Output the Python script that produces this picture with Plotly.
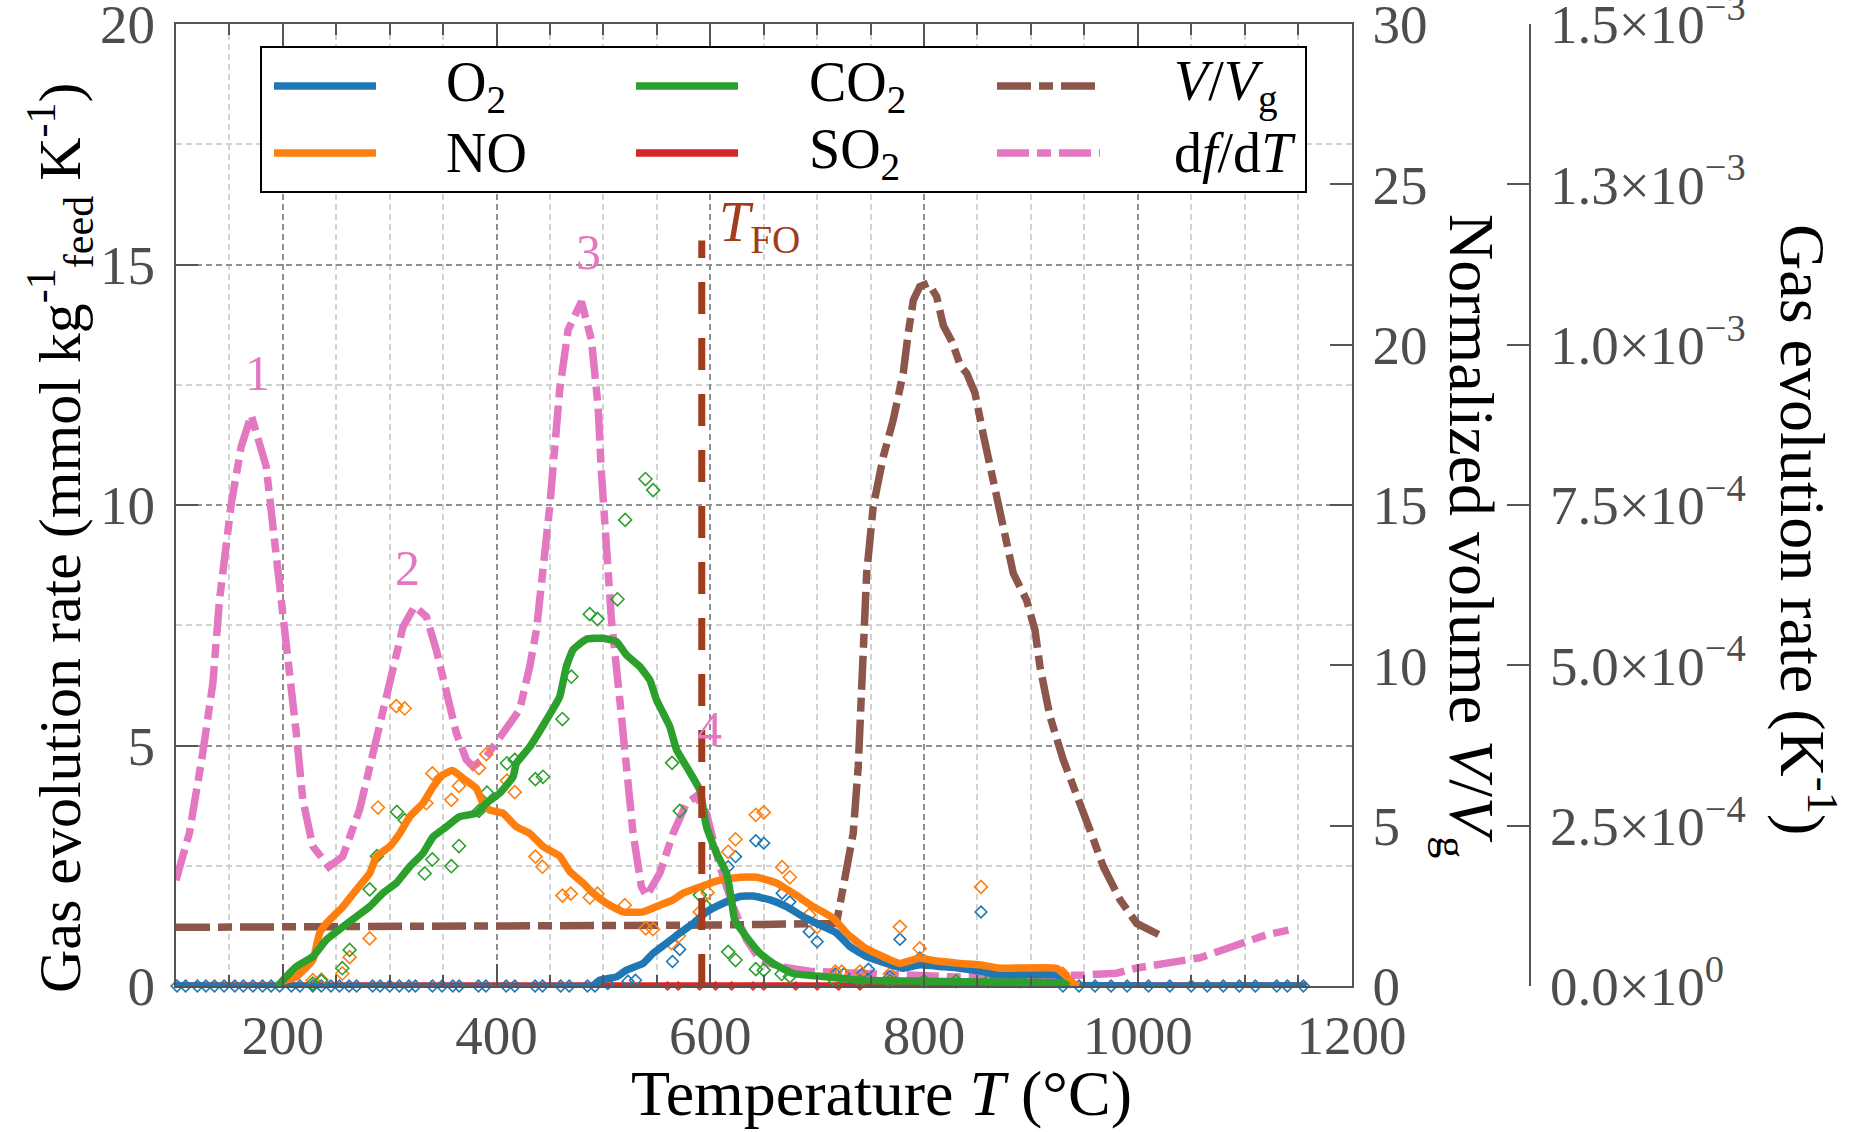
import plotly.graph_objects as go

# ---------------- data ----------------
# O2 (solid line), mmol kg-1 K-1
T_O2 = [100, 490, 496.5, 512.2, 521.5, 537.1, 546.5, 559, 571.4, 583.9, 596.4, 612, 627.7, 640.1, 656,
        671.4, 686.9, 702.5, 718.2, 730.6, 746.3, 764.9, 780.5, 796, 818, 833.6, 855, 871, 924, 932, 940, 1158]
O2 = [0, 0, 0.12, 0.19, 0.33, 0.47, 0.68, 0.89, 1.10, 1.30, 1.54, 1.72, 1.86, 1.87, 1.79,
      1.65, 1.44, 1.27, 1.10, 0.82, 0.61, 0.47, 0.37, 0.44, 0.40, 0.37, 0.30, 0.23, 0.23, 0.08, 0.02, 0]

T_NO = [195, 200, 212.5, 228, 234.4, 240.6, 256.2, 268.7, 281.2, 287.5, 300, 309.3, 318.6, 331.1, 340.5,
        349.8, 358.6, 368.5, 381.1, 387.3, 393.5, 406, 418.5, 431, 443.5, 459, 468.4, 480.9, 490.3, 502.8,
        518.4, 537.1, 552.7, 565.2, 574.6, 590.2, 609, 627.7, 643.3, 662, 677.5, 696.3, 715, 727.5, 743,
        758.7, 777.4, 796, 808.6, 833.6, 852, 870.9, 924, 930.3, 940, 945]
NO = [0, 0.10, 0.19, 0.54, 1.10, 1.30, 1.65, 2.0, 2.34, 2.69, 2.90, 3.17, 3.52, 3.80, 4.14,
      4.39, 4.48, 4.32, 4.11, 3.80, 3.66, 3.59, 3.31, 3.17, 2.90, 2.70, 2.38, 2.14, 1.93, 1.72,
      1.54, 1.54, 1.68, 1.79, 1.93, 2.06, 2.20, 2.26, 2.26, 2.14, 1.93, 1.65, 1.41, 1.10, 0.82,
      0.64, 0.47, 0.58, 0.53, 0.47, 0.44, 0.37, 0.37, 0.26, 0.05, 0]

T_CO2 = [195, 200, 212.5, 228, 240.6, 256.2, 268.7, 281.2, 293.6, 306.2, 318.6, 331.1, 340.5, 353, 365.4,
         381.1, 390.4, 402.9, 415.4, 418.5, 431, 446.6, 459, 465.3, 471.5, 484, 499.6, 512.2, 521.5, 534,
         543.4, 549.6, 562.1, 568.4, 577.7, 590.2, 596.4, 605.8, 615.2, 619.8, 622.9, 633.9, 646.4, 658.8,
         677.5, 708.8, 740, 800, 880, 930, 935]
CO2 = [0, 0.12, 0.40, 0.61, 0.96, 1.23, 1.44, 1.65, 1.93, 2.14, 2.48, 2.76, 3.10, 3.31, 3.52,
       3.59, 3.80, 4.01, 4.35, 4.63, 4.97, 5.53, 6.01, 6.64, 6.99, 7.21, 7.23, 7.16, 6.88, 6.64,
       6.36, 5.95, 5.39, 4.91, 4.56, 4.07, 3.31, 2.76, 2.34, 1.79, 1.37, 1.02, 0.68, 0.47,
       0.26, 0.19, 0.12, 0.10, 0.08, 0.06, 0]

T_SO2 = [100, 600, 1158]
SO2 = [0, 0, 0]

# raw measurement points (open diamonds)
T_O2_pts = [101, 109, 120, 128, 136, 145, 155, 163, 172, 181, 189, 197, 208, 216, 228, 236, 245, 253, 262, 269,
            284, 291, 300, 309, 318, 324, 340, 349, 359, 365, 383, 390, 409, 417, 436, 443, 460, 468, 485, 492,
            504, 523, 530, 564.6, 571.4, 616.7, 623.6, 642.6, 650, 667.2, 674.4, 692.5, 700, 717, 725, 742, 748,
            768, 777.4, 796, 853.3, 870, 890, 910, 930, 945, 960, 975, 990, 1010, 1030, 1050, 1065, 1080, 1095,
            1110, 1130, 1140, 1155]
O2_pts = [0] * 40 + [0.05, 0.10, 0.12, 0.51, 0.76, 2.48, 2.69, 3.02, 2.97, 1.93, 1.75, 1.13, 0.92, 0.25, 0.25,
                     0.25, 0.35, 0.20, 0.97, 0.58, 1.54, 0.15, 0.15, 0.15] + [0] * 15

T_NO_pts = [228, 236, 255.6, 262.5, 281.2, 289, 306.2, 314, 334.3, 339.9, 357.7, 364.8, 383.5, 390.4, 409.7, 417,
            436.3, 442.9, 461.6, 469.4, 487.2, 494.4, 520, 539.6, 546.5, 563.7, 570.6, 590.2, 597.4, 616.7, 623.6,
            642.6, 650, 667.2, 674.4, 692.5, 700, 717, 723, 740, 768, 777.4, 796, 853.3, 875, 890, 910, 930]
NO_pts = [0.12, 0.13, 0.26, 0.60, 0.99, 3.71, 5.82, 5.77, 3.80, 4.42, 3.87, 4.16, 4.53, 4.82, 4.27, 4.03,
          2.69, 2.48, 1.88, 1.92, 1.84, 1.92, 1.68, 1.20, 1.18, 0.89, 1.04, 1.54, 1.94, 2.79, 3.05,
          3.56, 3.61, 2.47, 2.26, 1.48, 1.23, 0.30, 0.30, 0.30, 0.25, 1.23, 0.78, 2.06, 0.20, 0.25, 0.20, 0.25]

T_CO2_pts = [228, 236, 255.6, 262.5, 281.2, 288, 306.7, 314, 332.7, 339.9, 357.7, 364.8, 383.5, 391, 409.7, 417,
             436.3, 443.4, 461.6, 470, 487.2, 494.4, 513.1, 520.3, 539.3, 546.5, 564.2, 571.4, 590.2, 596.4,
             616.7, 623.6, 642.6, 650, 666.7, 674.5, 717, 740, 768, 800, 830, 860, 890, 930]
CO2_pts = [0.05, 0.10, 0.37, 0.75, 2.01, 2.70, 3.62, 3.45, 2.34, 2.63, 2.49, 2.91, 3.64, 4.02, 4.63, 4.70,
           4.30, 4.35, 5.55, 6.43, 7.73, 7.63, 8.04, 9.69, 10.54, 10.31, 4.64, 3.64, 1.89, 1.65,
           0.71, 0.54, 0.35, 0.33, 0.25, 0.20, 0.10, 0.10, 0.10, 0.10, 0.10, 0.10, 0.10, 0.10]

T_SO2_pts = [560, 570, 590, 605, 620, 640, 650, 680, 700, 720, 740]
SO2_pts = [0] * 11

# normalized volume V/Vg
T_V = [100, 300, 500, 600, 718, 727.5, 733.7, 738.4, 741.5, 743.1, 746.3, 752.4, 761.8, 771.2, 780.5, 785.2,
       790, 796, 804, 811.8, 818, 826, 834, 840, 847.6, 855.4, 863.3, 869.5, 875.7, 883.5, 896, 903.8, 908.5,
       917.9, 930.3, 942.9, 955.3, 967.8, 983.4, 999, 1011.5, 1024]
V_Vg = [1.83, 1.84, 1.87, 1.90, 1.95, 3.51, 4.76, 6.84, 8.93, 11.0, 12.87, 14.94, 16.5, 17.66, 19.11, 20.36,
        21.39, 21.81, 21.92, 21.5, 20.6, 20.1, 19.35, 19.1, 18.5, 17.2, 16.0, 14.94, 13.9, 12.87, 12.03, 11.1, 9.96,
        8.4, 7.05, 6.0, 4.86, 3.72, 2.69, 1.95, 1.74, 1.53]

# df/dT (K^-1)
T_df = [100, 112.6, 125, 134.5, 140.7, 151.7, 161, 170.4, 184.4, 190.6, 195.3, 206.3, 212.5, 218.7, 228, 243,
        256, 271.8, 287.5, 300, 312.4, 323.3, 334.3, 343.6, 353, 362.4, 371.7, 377.9, 390.4, 406, 421.6, 431,
        437.3, 449.7, 459, 466.9, 479.4, 488.8, 495, 498.1, 502.8, 507.5, 515.3, 521.5, 527.7, 535.5, 540.3,
        552.7, 565.2, 577.7, 587, 596.4, 609, 621.4, 633.9, 646.4, 665.1, 693.2, 740, 802, 830, 949, 980, 999,
        1027, 1058, 1089.5, 1120.8, 1141]
dfdT = [1.65e-4, 2.39e-4, 3.63e-4, 4.72e-4, 6.02e-4, 7.52e-4, 8.41e-4, 8.90e-4, 8.10e-4, 7.22e-4, 6.44e-4,
        4.98e-4, 3.95e-4, 2.90e-4, 2.18e-4, 1.86e-4, 2.02e-4, 2.75e-4, 3.83e-4, 4.72e-4, 5.60e-4, 5.92e-4,
        5.76e-4, 5.24e-4, 4.57e-4, 3.94e-4, 3.53e-4, 3.42e-4, 3.58e-4, 3.94e-4, 4.31e-4, 4.98e-4, 5.55e-4,
        7.47e-4, 9.29e-4, 1.023e-3, 1.067e-3, 1.007e-3, 9.03e-4, 8.00e-4, 6.95e-4, 5.70e-4, 4.46e-4, 3.42e-4,
        2.38e-4, 1.55e-4, 1.40e-4, 1.76e-4, 2.38e-4, 2.85e-4, 2.96e-4, 2.69e-4, 1.86e-4, 1.24e-4, 7.2e-5,
        4.1e-5, 3.0e-5, 2.3e-5, 2.0e-5, 1.4e-5, 1.4e-5, 1.7e-5, 2.0e-5, 2.8e-5, 3.5e-5, 4.4e-5, 6.2e-5,
        8.0e-5, 8.7e-5]

T_FO = 592
T_FO_TOP = 15.5

peak_labels = ["1", "2", "3", "4"]
peak_T = [176, 317, 486, 599]
peak_val = [12.75, 8.7, 15.25, 5.35]

y3_tickvals = [0, 2.5e-4, 5.0e-4, 7.5e-4, 1.0e-3, 1.25e-3, 1.5e-3]
y3_ticktext = ["0.0×10<sup>0</sup>", "2.5×10<sup>−4</sup>", "5.0×10<sup>−4</sup>", "7.5×10<sup>−4</sup>",
               "1.0×10<sup>−3</sup>", "1.3×10<sup>−3</sup>", "1.5×10<sup>−3</sup>"]

# ---------------- styling ----------------
C_O2, C_NO, C_CO2, C_SO2 = "#1f77b4", "#ff7f0e", "#2ca02c", "#d62728"
C_V, C_DF, C_TFO = "#8c564b", "#e377c2", "#a23c1c"
FONT = "Liberation Serif, Times New Roman, serif"
TICKC = "#4d4d4d"
AXC = "#555555"
DASH_V = "34px,8px,14px,8px"
DASH_DF = "32px,8px,14px,8px"
GRID_DASH = "6px,4px"
LW = 7.5

W, H = 1872, 1132
ML, MR, MT, MB = 176, 272, 24, 146
PW = W - ML - MR
PH = H - MT - MB
PLOT_RIGHT = 1351.5
Y3_X = 1530


def px(xp):
    return (xp - ML) / PW


def py(yp):
    return (H - MB - yp) / PH


fig = go.Figure()

fig.add_trace(go.Scatter(x=T_SO2, y=SO2, mode="lines", line=dict(color=C_SO2, width=LW),
                         yaxis="y", showlegend=False))
fig.add_trace(go.Scatter(x=T_V, y=V_Vg, mode="lines", line=dict(color=C_V, width=LW, dash=DASH_V),
                         yaxis="y2", showlegend=False))
fig.add_trace(go.Scatter(x=T_df, y=dfdT, mode="lines", line=dict(color=C_DF, width=LW, dash=DASH_DF),
                         yaxis="y3", showlegend=False))

for T, v, c, s in [(T_SO2_pts, SO2_pts, C_SO2, 6), (T_O2_pts, O2_pts, C_O2, 9),
                   (T_NO_pts, NO_pts, C_NO, 10), (T_CO2_pts, CO2_pts, C_CO2, 10)]:
    fig.add_trace(go.Scatter(x=T, y=v, mode="markers",
                             marker=dict(symbol="diamond-open", size=s, color=c, line=dict(width=1.6, color=c)),
                             yaxis="y4", showlegend=False, cliponaxis=False))

for T, v, c in [(T_O2, O2, C_O2), (T_NO, NO, C_NO), (T_CO2, CO2, C_CO2)]:
    fig.add_trace(go.Scatter(x=T, y=v, mode="lines", line=dict(color=c, width=LW, shape="spline", smoothing=0.4),
                             yaxis="y4", showlegend=False))

fig.add_trace(go.Scatter(x=[T_FO, T_FO], y=[0, T_FO_TOP], mode="lines",
                         line=dict(color=C_TFO, width=7, dash="32px,24px"), yaxis="y4", showlegend=False))

tickfont = dict(family=FONT, size=55, color=TICKC)
common_y = dict(ticks="inside", ticklen=22, tickwidth=2, tickcolor=AXC, showline=True, linecolor=AXC,
                linewidth=2, zeroline=False, tickfont=tickfont, automargin=False,
                ticklabeloverflow="allow", ticklabelstandoff=8)

fig.update_layout(
    width=W, height=H,
    margin=dict(l=ML, r=MR, t=MT, b=MB),
    paper_bgcolor="white", plot_bgcolor="white",
    showlegend=False,
    xaxis=dict(domain=[0, px(PLOT_RIGHT)], range=[100, 1200], tickmode="linear", tick0=0, dtick=200,
               ticks="inside", ticklen=22, tickwidth=2, tickcolor=AXC,
               showline=True, linecolor=AXC, linewidth=2, mirror="ticks",
               showgrid=True, gridcolor="#8f8f8f", gridwidth=1.5, griddash=GRID_DASH,
               minor=dict(tick0=0, dtick=50, ticks="inside", ticklen=11, tickwidth=1.5, tickcolor=AXC,
                          showgrid=True, gridcolor="#d2d2d2", gridwidth=1.5, griddash=GRID_DASH),
               zeroline=False, tickfont=tickfont, automargin=False, ticklabeloverflow="allow",
               ticklabelstandoff=0),
    yaxis=dict(range=[0, 20], tickmode="linear", tick0=0, dtick=5, mirror=True,
               showgrid=True, gridcolor="#8f8f8f", gridwidth=1.5, griddash=GRID_DASH,
               minor=dict(tick0=0, dtick=2.5, ticks="", showgrid=True, gridcolor="#d2d2d2",
                          gridwidth=1.5, griddash=GRID_DASH),
               **common_y),
    yaxis2=dict(overlaying="y", side="right", anchor="x", range=[0, 30], tickmode="linear", tick0=0, dtick=5,
                showgrid=False, **common_y),
    yaxis3=dict(overlaying="y", side="right", anchor="free", position=px(Y3_X), range=[0, 1.5e-3],
                tickmode="array", tickvals=y3_tickvals, ticktext=y3_ticktext, showgrid=False, **common_y),
    yaxis4=dict(overlaying="y", range=[0, 20], visible=False),
)

annotations = []
TITLE_FONT = dict(family=FONT, size=64, color="black")
annotations.append(dict(text="Gas evolution rate (mmol kg<sup>-1</sup><sub>feed</sub> K<sup>-1</sup>)",
                        xref="paper", yref="paper", x=px(60), y=py(538), textangle=-90,
                        xanchor="center", yanchor="middle", showarrow=False,
                        font=dict(family=FONT, size=60, color="black")))
annotations.append(dict(text="Temperature <i>T</i> (°C)", xref="paper", yref="paper", x=px(881), y=py(1093),
                        xanchor="center", yanchor="middle", showarrow=False, font=TITLE_FONT))
annotations.append(dict(text="Normalized volume <i>V</i>/<i>V</i><sub>g</sub>", xref="paper", yref="paper",
                        x=px(1467), y=py(536), textangle=90, xanchor="center", yanchor="middle",
                        showarrow=False, font=TITLE_FONT))
annotations.append(dict(text="Gas evolution rate (K<sup>-1</sup>)", xref="paper", yref="paper",
                        x=px(1808), y=py(530), textangle=90, xanchor="center", yanchor="middle",
                        showarrow=False, font=TITLE_FONT))

for lab, t, v in zip(peak_labels, peak_T, peak_val):
    annotations.append(dict(text=lab, x=t, y=v, xref="x", yref="y", showarrow=False,
                            font=dict(family=FONT, size=50, color=C_DF)))

annotations.append(dict(text="<i>T</i><sub>FO</sub>", x=T_FO + 14, y=15.8, xref="x", yref="y",
                        xanchor="left", yanchor="middle", showarrow=False,
                        font=dict(family=FONT, size=56, color=C_TFO)))

# legend (drawn as box + samples + labels)
shapes = [dict(type="rect", xref="paper", yref="paper", x0=px(261), x1=px(1306), y0=py(192), y1=py(47),
               line=dict(color="black", width=2), fillcolor="white", layer="above")]
leg_rows = [86, 153]
leg_cols = [(274, 376, 444), (636, 738, 807), (997, 1100, 1172)]
leg_items = [
    (0, 0, "O<sub>2</sub>", C_O2, "solid"), (0, 1, "NO", C_NO, "solid"),
    (1, 0, "CO<sub>2</sub>", C_CO2, "solid"), (1, 1, "SO<sub>2</sub>", C_SO2, "solid"),
    (2, 0, "<i>V</i>/<i>V</i><sub>g</sub>", C_V, DASH_V), (2, 1, "d<i>f</i>/d<i>T</i>", C_DF, DASH_DF),
]
for ci, ri, txt, col, dash in leg_items:
    x0, x1, xt = leg_cols[ci]
    yr = leg_rows[ri]
    shapes.append(dict(type="line", xref="paper", yref="paper", x0=px(x0), x1=px(x1), y0=py(yr), y1=py(yr),
                       line=dict(color=col, width=LW, dash=dash), layer="above"))
    annotations.append(dict(text=txt, xref="paper", yref="paper", x=px(xt), y=py(yr), xanchor="left",
                            yanchor="middle", showarrow=False, font=dict(family=FONT, size=56, color="black")))

fig.update_layout(shapes=shapes, annotations=annotations)

fig.write_html("out.html")
